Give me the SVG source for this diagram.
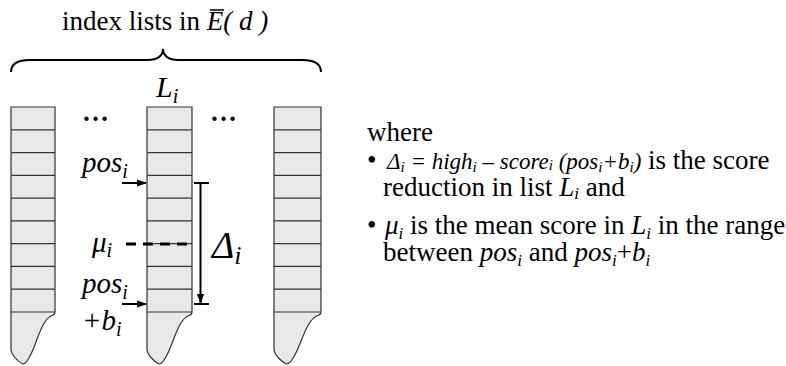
<svg xmlns="http://www.w3.org/2000/svg" width="786" height="366" viewBox="0 0 786 366">
<style>
.t{font-family:"Liberation Serif","Times New Roman","DejaVu Serif",serif;fill:#000}
.it{font-style:italic}
.col{fill:#e8e8e8;stroke:#333;stroke-width:1.2}
.row{stroke:#333;stroke-width:1.2}
.ln{stroke:#000;stroke-width:2;fill:none}
</style>
<defs>
<marker id="ah" markerWidth="10" markerHeight="8" refX="9" refY="4" orient="auto" markerUnits="userSpaceOnUse"><path d="M0,0.5 L10,4 L0,7.5 Z" fill="#000"/></marker>
<g id="column">
<path class="col" vector-effect="non-scaling-stroke" d="M0,107 H45 V312 C45,314 44,315 42,315.5 C34,318 29,333 24,346 C20,356 16,364 12,364 C6,361 0,354 0,349 Z"/>
<path class="row" vector-effect="non-scaling-stroke" d="M0,129.8H45M0,152.6H45M0,175.3H45M0,198.1H45M0,220.9H45M0,243.7H45M0,266.4H45M0,289.2H45M0,312H45"/>
</g>
</defs>

<g id="title">
<text class="t" x="62" y="30" font-size="27">index lists in <tspan class="it">E( d )</tspan></text>
<line x1="210" y1="10" x2="224" y2="10" stroke="#000" stroke-width="1.5"/>
</g>
<g id="brace">
<path class="ln" stroke-width="1.5" d="M11,72 C11,64 18,60 30,60 L148,60 C157,60 163,56 163,49 C163,56 169,60 178,60 L302,60 C314,60 321,64 321,72"/>
</g>

<g id="list-left"><use href="#column" transform="translate(11,0) scale(0.978,1)"/></g>
<g id="list-i"><use href="#column" transform="translate(147,0)"/>
<text class="t it" x="156" y="97" font-size="30">L<tspan font-size="20" dy="6">i</tspan></text></g>
<g id="list-right"><use href="#column" transform="translate(274,0) scale(1.044,1)"/></g>

<g id="dots">
<text class="t" x="82" y="121" font-size="27" font-weight="bold">…</text>
<text class="t" x="210" y="121" font-size="27" font-weight="bold">…</text>
</g>

<g id="labels">
<text class="t it" x="82" y="172" font-size="29">pos<tspan font-size="20" dy="6">i</tspan></text>
<text class="t it" x="92" y="252" font-size="29">μ<tspan font-size="20" dy="5">i</tspan></text>
<text class="t it" x="82" y="293" font-size="29">pos<tspan font-size="20" dy="6">i</tspan></text>
<text class="t it" x="82" y="330" font-size="29">+b<tspan font-size="20" dy="6">i</tspan></text>
<text class="t it" x="212" y="258" font-size="38">Δ<tspan font-size="26" dy="6">i</tspan></text>
</g>

<g id="connectors">
<line class="ln" x1="122" y1="183" x2="146" y2="183" marker-end="url(#ah)"/>
<line class="ln" x1="122" y1="304" x2="146" y2="304" marker-end="url(#ah)"/>
<line x1="126" y1="244" x2="192" y2="244" stroke="#000" stroke-width="3" stroke-dasharray="10 7"/>
<line class="ln" x1="194" y1="183" x2="209" y2="183"/>
<line class="ln" x1="194" y1="304" x2="209" y2="304"/>
<line class="ln" x1="200.5" y1="183" x2="200.5" y2="303" marker-end="url(#ah)"/>
</g>

<g id="notes">
<text class="t" x="367" y="141" font-size="27">where</text>
<text class="t" x="367" y="169" font-size="27">•<tspan x="387" class="it" font-size="23">Δ<tspan font-size="15" dy="3">i</tspan><tspan dy="-3"> = high</tspan><tspan font-size="15" dy="3">i</tspan><tspan dy="-3"> – score</tspan><tspan font-size="15" dy="1">i</tspan><tspan dy="-1"> (pos</tspan><tspan font-size="15" dy="3">i</tspan><tspan dy="-3">+b</tspan><tspan font-size="15" dy="3">i</tspan><tspan dy="-3">)</tspan></tspan><tspan dy="0"> is the score</tspan></text>
<text class="t" x="383" y="196" font-size="27">reduction in list <tspan class="it">L</tspan><tspan class="it" font-size="17" dy="3">i</tspan><tspan dy="-3"> and</tspan></text>
<text class="t" x="367" y="234" font-size="27">•<tspan x="385" class="it">μ</tspan><tspan class="it" font-size="17" dy="5">i</tspan><tspan dy="-5"> is the mean score in </tspan><tspan class="it">L</tspan><tspan class="it" font-size="17" dy="5">i</tspan><tspan dy="-5"> in the range</tspan></text>
<text class="t" x="383" y="261" font-size="27">between <tspan class="it">pos</tspan><tspan class="it" font-size="17" dy="5">i</tspan><tspan dy="-5"> and </tspan><tspan class="it">pos</tspan><tspan class="it" font-size="17" dy="5">i</tspan><tspan dy="-5">+</tspan><tspan class="it">b</tspan><tspan class="it" font-size="17" dy="5">i</tspan></text>
</g>
</svg>
